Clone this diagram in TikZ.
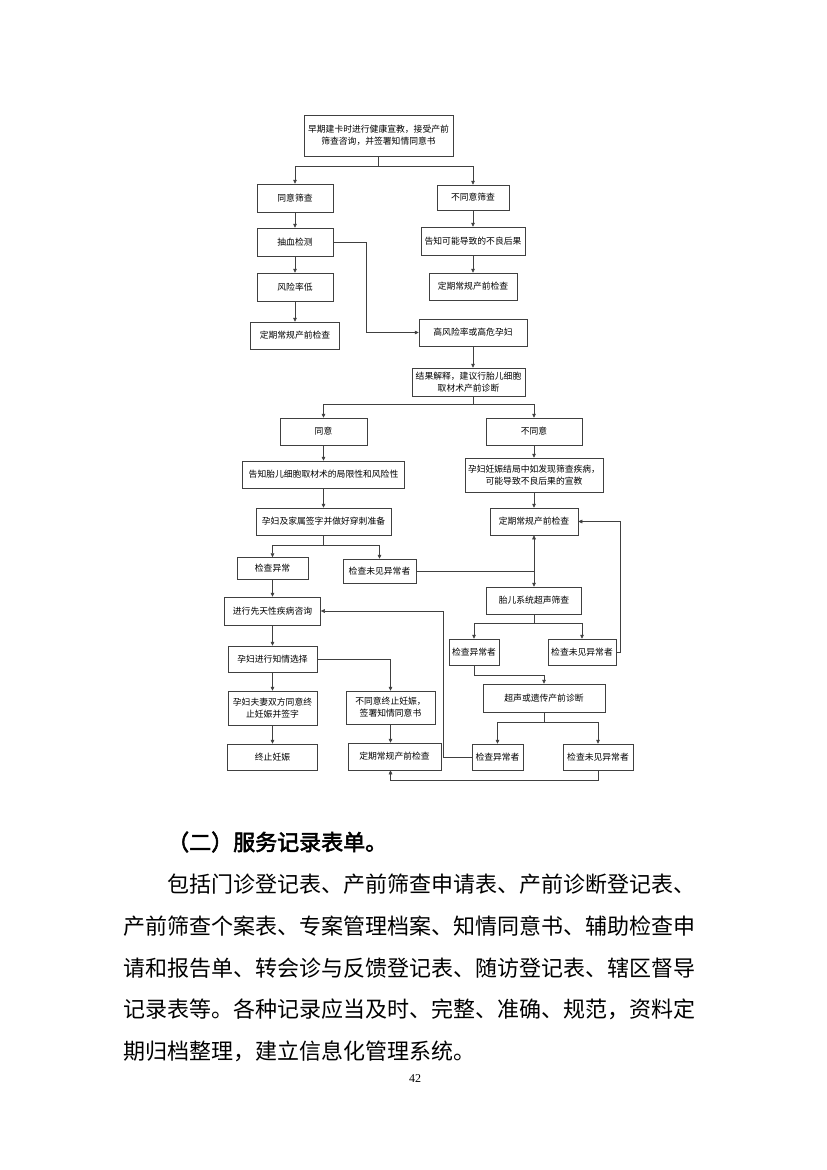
\documentclass[tikz,border=0pt]{standalone}
\usepackage{fontspec}
\usetikzlibrary{arrows.meta}
\newfontfamily\cjk{Noto Sans CJK SC}
\newfontfamily\cjkbold[FakeBold=2.5]{Noto Sans CJK SC}
\newfontfamily\pnfont{Liberation Serif}
\tikzset{
  box/.style={draw=black!75, line width=0.5pt, inner sep=0pt, align=center,
    font=\cjk\fontsize{8.8}{12}\selectfont},
  ln/.style={draw=black!75, line width=0.5pt},
  arr/.style={ln, -{Triangle[length=4pt,width=3.6pt]}},
  bodyline/.style={anchor=west, inner sep=0pt, font=\cjk\fontsize{22}{22}\selectfont}
}
\begin{document}
\begin{tikzpicture}[x=1pt, y=-1pt]
\useasboundingbox (0,0) rectangle (827,1170);

\node[box, minimum width=149, minimum height=41] (intro) at (378.5,135.5) {早期建卡时进行健康宣教，接受产前\\筛查咨询，并签署知情同意书};
\node[box, minimum width=76, minimum height=28] (agree) at (295,198) {同意筛查};
\node[box, minimum width=72, minimum height=25] (refuse) at (473,197.5) {不同意筛查};
\node[box, minimum width=76, minimum height=28] (blood) at (295,242) {抽血检测};
\node[box, minimum width=104, minimum height=28] (warn) at (473,241) {告知可能导致的不良后果};
\node[box, minimum width=76, minimum height=28] (lowrisk) at (295,287) {风险率低};
\node[box, minimum width=88, minimum height=27] (routineR) at (473,286.5) {定期常规产前检查};
\node[box, minimum width=89, minimum height=27] (routineL) at (295,335.5) {定期常规产前检查};
\node[box, minimum width=108, minimum height=27] (highrisk) at (473,332.5) {高风险率或高危孕妇};
\node[box, minimum width=113, minimum height=28] (explain) at (468.5,382) {结果解释，建议行胎儿细胞\\取材术产前诊断};

\node[box, minimum width=87, minimum height=27] (yes) at (323.5,431.5) {同意};
\node[box, minimum width=96, minimum height=27] (no) at (534,431.5) {不同意};
\node[box, minimum width=162, minimum height=27] (limit) at (323.5,474.5) {告知胎儿细胞取材术的局限性和风险性};
\node[box, minimum width=138, minimum height=34] (outcome) at (534,475) {孕妇妊娠结局中如发现筛查疾病，\\可能导致不良后果的宣教};
\node[box, minimum width=135, minimum height=27] (sign) at (323.5,521.5) {孕妇及家属签字并做好穿刺准备};
\node[box, minimum width=88, minimum height=27] (routineC) at (534,521.5) {定期常规产前检查};

\node[box, minimum width=71, minimum height=22] (abn1) at (272.5,568.5) {检查异常};
\node[box, minimum width=73, minimum height=24] (fine1) at (379.5,571) {检查未见异常者};
\node[box, minimum width=95, minimum height=27] (us) at (534,600.5) {胎儿系统超声筛查};
\node[box, minimum width=96, minimum height=28] (consult) at (272.5,611) {进行先天性疾病咨询};
\node[box, minimum width=50, minimum height=26] (abn2) at (474,652) {检查异常者};
\node[box, minimum width=68, minimum height=26] (fine2) at (582,652) {检查未见异常者};
\node[box, minimum width=89, minimum height=26] (choice) at (272.5,659) {孕妇进行知情选择};
\node[box, minimum width=122, minimum height=28] (diag) at (544,698) {超声或遗传产前诊断};
\node[box, minimum width=89, minimum height=34] (both) at (272.5,708) {孕妇夫妻双方同意终\\止妊娠并签字};
\node[box, minimum width=89, minimum height=33] (decline) at (390.5,707.5) {不同意终止妊娠，\\签署知情同意书};
\node[box, minimum width=90, minimum height=26] (stop) at (272.5,757) {终止妊娠};
\node[box, minimum width=93, minimum height=27] (routineD) at (394.5,756.5) {定期常规产前检查};
\node[box, minimum width=51, minimum height=26] (abn3) at (497.5,757) {检查异常者};
\node[box, minimum width=70, minimum height=26] (fine3) at (598,757) {检查未见异常者};

\draw[ln] (intro.south) -- ++(0,10) coordinate (j1);
\draw[arr] (j1) -| (agree);
\draw[arr] (j1) -| (refuse);
\draw[arr] (agree) -- (blood);
\draw[arr] (blood) -- (lowrisk);
\draw[arr] (lowrisk) -- (routineL);
\draw[arr] (refuse) -- (warn);
\draw[arr] (warn) -- (routineR);
\draw[arr] (blood.east) -- ++(33,0) |- (highrisk);
\draw[arr] (highrisk.south) -- (highrisk.south |- explain.north);
\draw[ln] (explain.south -| highrisk) -- ++(0,8) coordinate (j2);
\draw[arr] (j2) -| (yes);
\draw[arr] (j2) -| (no);
\draw[arr] (yes) -- (limit);
\draw[arr] (limit) -- (sign);
\draw[arr] (no) -- (outcome);
\draw[arr] (outcome) -- (routineC);
\draw[ln] (sign.south) -- ++(0,10) coordinate (j3);
\draw[arr] (j3) -| (abn1);
\draw[arr] (j3) -| (fine1);
\draw[arr] (fine1.east) -| (routineC.south);
\draw[arr] (fine1.east -| us) -- (us);
\draw[arr] (abn1) -- (consult);
\draw[arr] (consult) -- (choice);
\draw[arr] (choice) -- (both);
\draw[arr] (both) -- (stop);
\draw[arr] (choice) -| (decline);
\draw[arr] (decline.south) -- (decline.south |- routineD.north);
\draw[ln] (us.south) -- ++(0,9) coordinate (j4);
\draw[arr] (j4) -| (abn2);
\draw[arr] (j4) -| (fine2);
\draw[arr] (fine2.east) -- ++(4,0) |- (routineC);
\draw[arr] (abn2.south) -- ++(0,10) -| (diag);
\draw[ln] (diag.south) -- ++(0,10) coordinate (j5);
\draw[arr] (j5) -| (abn3);
\draw[arr] (j5) -| (fine3);
\draw[arr] (abn3.west) -- ++(-29,0) |- (consult);
\draw[arr] (fine3.south) -- ++(0,10) -| (decline.south |- routineD.south);

\node[anchor=west, inner sep=0pt, font=\cjkbold\fontsize{22}{22}\selectfont] (heading) at (167,842) {（二）服务记录表单。};
\node[bodyline] (par1) at (167,884) {包括门诊登记表、产前筛查申请表、产前诊断登记表、};
\node[bodyline] (par2) at (123,926) {产前筛查个案表、专案管理档案、知情同意书、辅助检查申};
\node[bodyline] (par3) at (123,968) {请和报告单、转会诊与反馈登记表、随访登记表、辖区督导};
\node[bodyline] (par4) at (123,1009) {记录表等。各种记录应当及时、完整、准确、规范，资料定};
\node[bodyline] (par5) at (123,1051) {期归档整理，建立信息化管理系统。};
\node[font=\pnfont\fontsize{12}{12}\selectfont] (pagenum) at (415,1079) {42};
\end{tikzpicture}
\end{document}
